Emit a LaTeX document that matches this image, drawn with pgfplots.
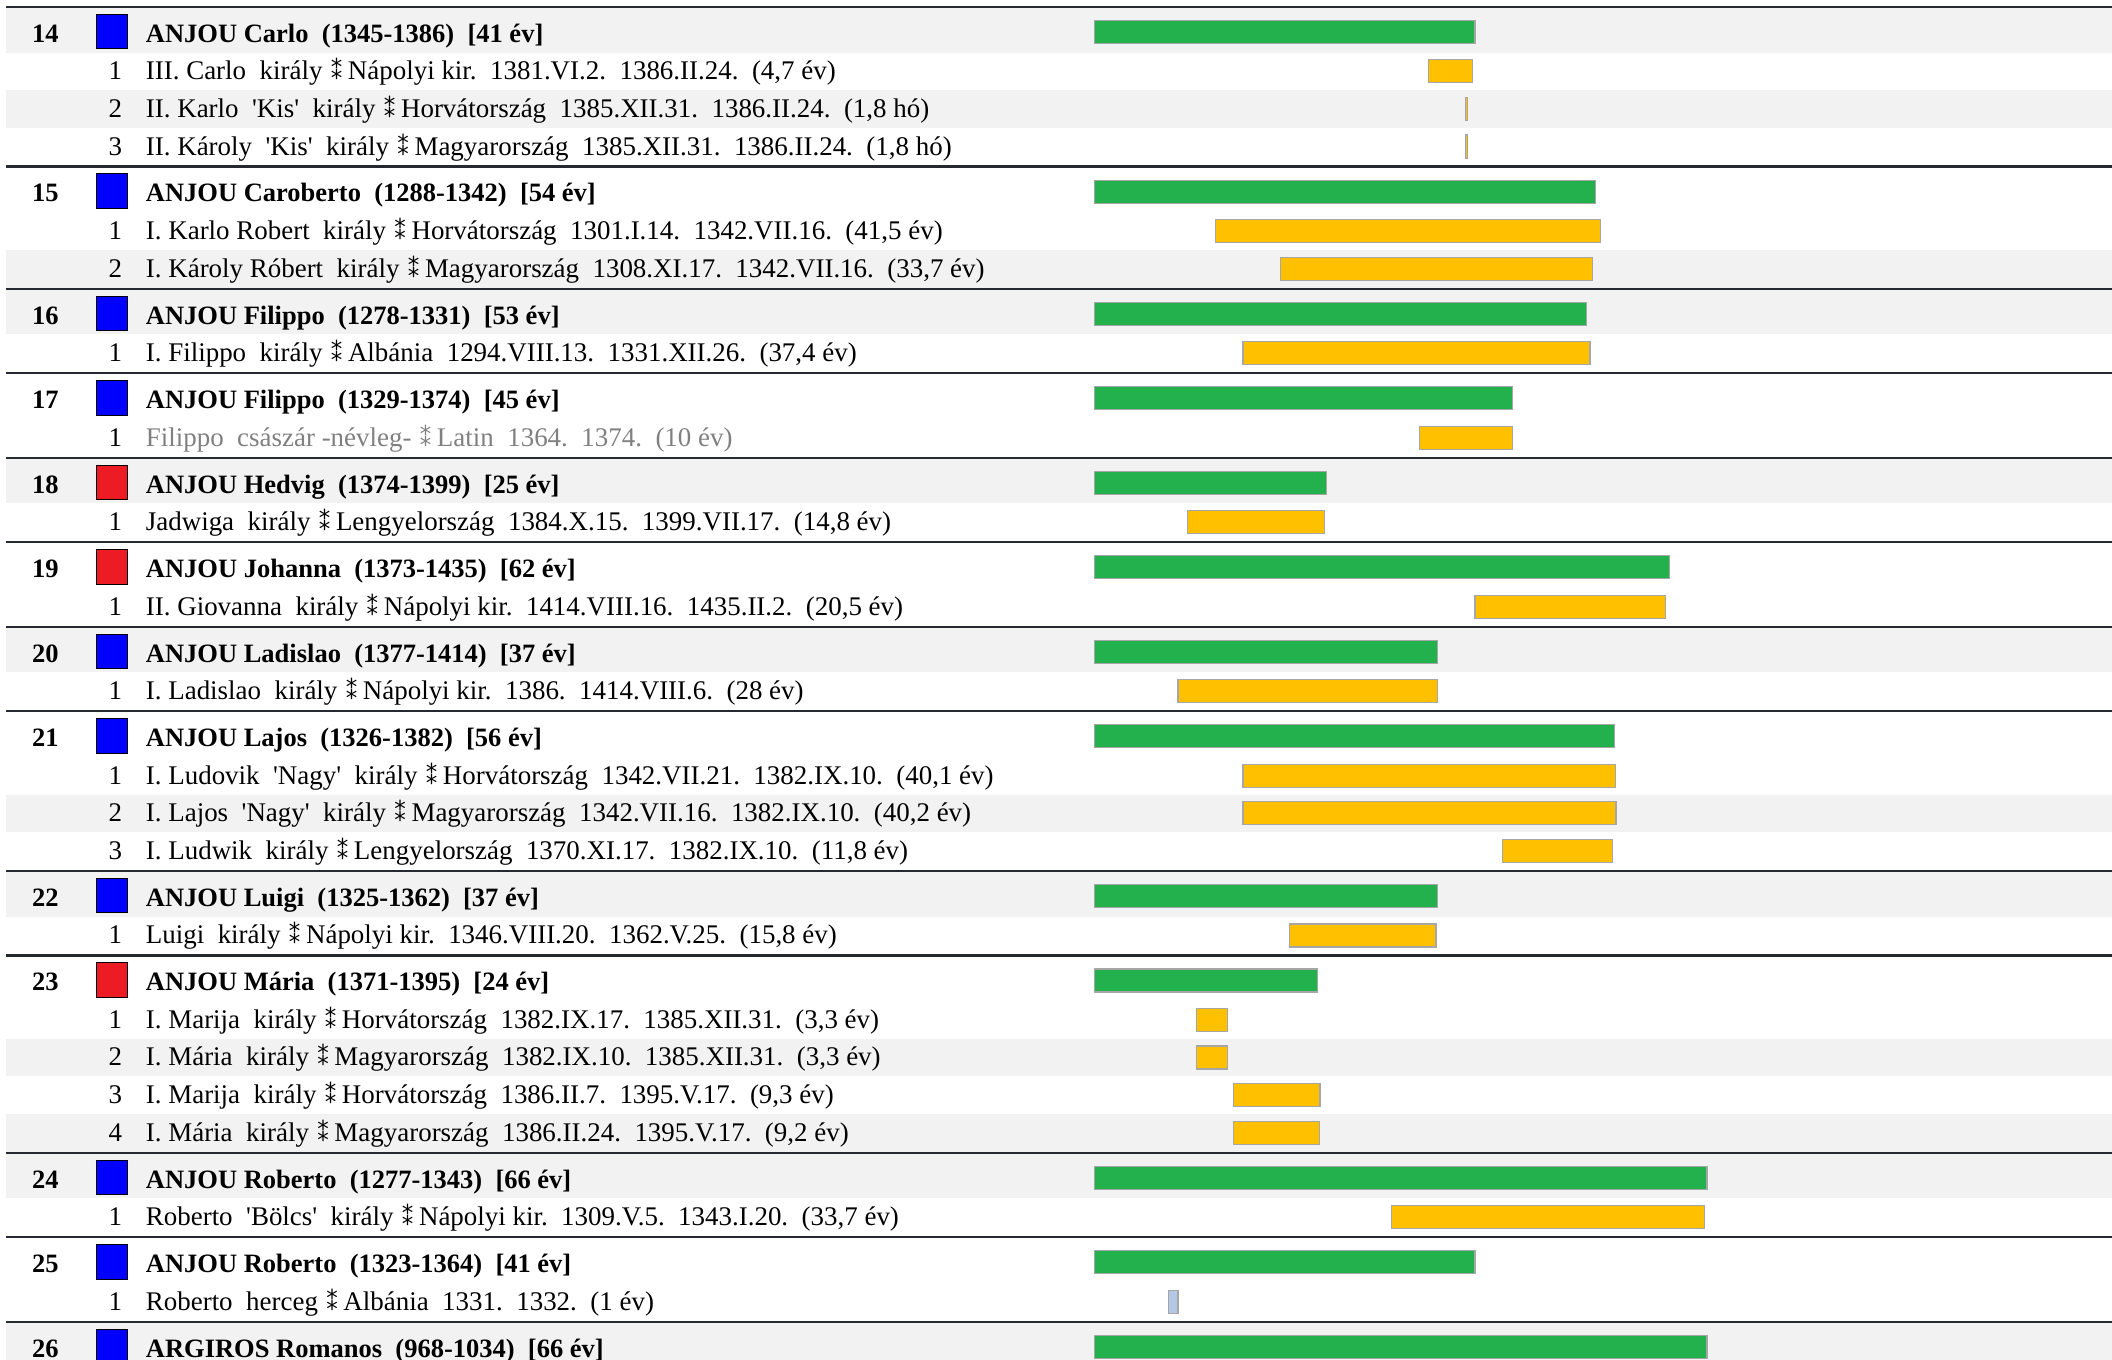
\documentclass[border=0pt]{standalone}
\usepackage{fontspec}
\setmainfont{Liberation Serif}[Ligatures=TeXOff]
\newfontfamily\djv{DejaVu Sans}
\usepackage{pgfplots}
\pgfplotsset{compat=1.18}
\definecolor{barGreen}{RGB}{35,177,77}
\definecolor{barYellow}{RGB}{255,192,0}
\definecolor{barBlue}{RGB}{180,199,231}
\definecolor{barEdge}{RGB}{166,166,166}
\definecolor{rowGray}{RGB}{242,242,242}
\definecolor{sepLine}{RGB}{38,41,48}
\definecolor{sqBlue}{RGB}{0,0,255}
\definecolor{sqRed}{RGB}{237,28,36}
\definecolor{txtGray}{RGB}{128,128,128}
\pgfplotsset{
  frame/.style={width=1056pt, height=679.5pt, scale only axis,
    xmin=-117.94, xmax=109.64, ymin=0, ymax=1359, y dir=reverse,
    axis lines=none, ticks=none, clip=true, at={(0,0)}, anchor=south west},
  barstyle/.style={draw=barEdge, line width=0.6pt},
}
\newcommand\fsz{\fontsize{13.25}{15}\selectfont}
\newcommand\fss{\fontsize{13.47}{15}\selectfont}
\newcommand\dast{\hspace{0.06em}{\djv\fontsize{11.5}{12}\selectfont ⁑}\hspace{-0.04em}}
\newcommand\grp[3]{%
  \node[anchor=base, inner sep=0pt, font=\fsz\bfseries] at (axis cs:-113.04,#1) {#2};
  \node[anchor=base west, inner sep=0pt, font=\fsz\bfseries] at (axis cs:-102.26,#1) {#3};}
\newcommand\sub[3]{%
  \node[anchor=base east, inner sep=0pt, font=\fss] at (axis cs:-104.74,#1) {#2};
  \node[anchor=base west, inner sep=0pt, font=\fss] at (axis cs:-102.26,#1) {#3};}
\newcommand\bg[2]{\fill[rowGray] (axis cs:-117.29,#1) rectangle (axis cs:109.64,#2);}
\newcommand\sep[1]{\draw[sepLine, line width=1.15pt] (axis cs:-117.29,#1) -- (axis cs:109.64,#1);}
\begin{document}
\begin{tikzpicture}
\useasboundingbox (0,0) rectangle (1056pt,679.5pt);
\begin{axis}[frame]
% alternating row backgrounds
\bg{8}{52.6}\bg{90.2}{127.8}\bg{249.9}{287.5}\bg{289.8}{334.4}
\bg{458.8}{503.4}\bg{627.8}{672.4}\bg{794.5}{832.1}\bg{872.0}{916.6}
\bg{1038.7}{1076.3}\bg{1113.9}{1151.5}\bg{1153.8}{1198.4}\bg{1322.8}{1367.4}
% separators
\sep{6.85}\sep{166.55}\sep{288.65}\sep{373.15}\sep{457.65}\sep{542.15}
\sep{626.65}\sep{711.15}\sep{870.85}\sep{955.35}\sep{1152.65}\sep{1237.15}\sep{1321.65}
% lifespan bars (years)
\addplot[xbar, bar shift=0pt, bar width=11.5pt, fill=barGreen, barstyle] coordinates {
 (41,32.0) (54,191.7) (53,313.8) (45,398.3) (25,482.8) (62,567.3) (37,651.8)
 (56,736.3) (37,896.0) (24,980.5) (66,1177.8) (41,1262.3) (66,1346.8)};
% gender squares
\addplot[only marks, mark=square*, mark size=7.65pt,
  mark options={yscale=1.134, fill=sqBlue, draw=none}] coordinates {
 (-105.87,31.5) (-105.87,191.2) (-105.87,313.3) (-105.87,397.8) (-105.87,651.3)
 (-105.87,735.8) (-105.87,895.5) (-105.87,1177.3) (-105.87,1261.8) (-105.87,1346.3)};
\addplot[only marks, mark=square*, mark size=7.65pt,
  mark options={yscale=1.134, fill=sqRed, draw=none}] coordinates {
 (-105.87,482.3) (-105.87,566.8) (-105.87,980.0)};
% texts
\grp{42.2}{14}{ANJOU Carlo~~(1345-1386)~~[41 év]}
\sub{79.8}{1}{III. Carlo~~király \dast{} Nápolyi kir.~~1381.VI.2.~~1386.II.24.~~(4,7 év)}
\sub{117.4}{2}{II. Karlo~~'Kis'~~király \dast{} Horvátország~~1385.XII.31.~~1386.II.24.~~(1,8 hó)}
\sub{155.0}{3}{II. Károly~~'Kis'~~király \dast{} Magyarország~~1385.XII.31.~~1386.II.24.~~(1,8 hó)}
\grp{201.9}{15}{ANJOU Caroberto~~(1288-1342)~~[54 év]}
\sub{239.5}{1}{I. Karlo Robert~~király \dast{} Horvátország~~1301.I.14.~~1342.VII.16.~~(41,5 év)}
\sub{277.1}{2}{I. Károly Róbert~~király \dast{} Magyarország~~1308.XI.17.~~1342.VII.16.~~(33,7 év)}
\grp{324.0}{16}{ANJOU Filippo~~(1278-1331)~~[53 év]}
\sub{361.6}{1}{I. Filippo~~király \dast{} Albánia~~1294.VIII.13.~~1331.XII.26.~~(37,4 év)}
\grp{408.5}{17}{ANJOU Filippo~~(1329-1374)~~[45 év]}
\sub{446.1}{1}{\color{txtGray}Filippo~~császár -névleg- \dast{} Latin~~1364.~~1374.~~(10 év)}
\grp{493.0}{18}{ANJOU Hedvig~~(1374-1399)~~[25 év]}
\sub{530.6}{1}{Jadwiga~~király \dast{} Lengyelország~~1384.X.15.~~1399.VII.17.~~(14,8 év)}
\grp{577.5}{19}{ANJOU Johanna~~(1373-1435)~~[62 év]}
\sub{615.1}{1}{II. Giovanna~~király \dast{} Nápolyi kir.~~1414.VIII.16.~~1435.II.2.~~(20,5 év)}
\grp{662.0}{20}{ANJOU Ladislao~~(1377-1414)~~[37 év]}
\sub{699.6}{1}{I. Ladislao~~király \dast{} Nápolyi kir.~~1386.~~1414.VIII.6.~~(28 év)}
\grp{746.5}{21}{ANJOU Lajos~~(1326-1382)~~[56 év]}
\sub{784.1}{1}{I. Ludovik~~'Nagy'~~király \dast{} Horvátország~~1342.VII.21.~~1382.IX.10.~~(40,1 év)}
\sub{821.7}{2}{I. Lajos~~'Nagy'~~király \dast{} Magyarország~~1342.VII.16.~~1382.IX.10.~~(40,2 év)}
\sub{859.3}{3}{I. Ludwik~~király \dast{} Lengyelország~~1370.XI.17.~~1382.IX.10.~~(11,8 év)}
\grp{906.2}{22}{ANJOU Luigi~~(1325-1362)~~[37 év]}
\sub{943.8}{1}{Luigi~~király \dast{} Nápolyi kir.~~1346.VIII.20.~~1362.V.25.~~(15,8 év)}
\grp{990.7}{23}{ANJOU Mária~~(1371-1395)~~[24 év]}
\sub{1028.3}{1}{I. Marija~~király \dast{} Horvátország~~1382.IX.17.~~1385.XII.31.~~(3,3 év)}
\sub{1065.9}{2}{I. Mária~~király \dast{} Magyarország~~1382.IX.10.~~1385.XII.31.~~(3,3 év)}
\sub{1103.5}{3}{I. Marija~~király \dast{} Horvátország~~1386.II.7.~~1395.V.17.~~(9,3 év)}
\sub{1141.1}{4}{I. Mária~~király \dast{} Magyarország~~1386.II.24.~~1395.V.17.~~(9,2 év)}
\grp{1188.0}{24}{ANJOU Roberto~~(1277-1343)~~[66 év]}
\sub{1225.6}{1}{Roberto~~'Bölcs'~~király \dast{} Nápolyi kir.~~1309.V.5.~~1343.I.20.~~(33,7 év)}
\grp{1272.5}{25}{ANJOU Roberto~~(1323-1364)~~[41 év]}
\sub{1310.1}{1}{Roberto~~herceg \dast{} Albánia~~1331.~~1332.~~(1 év)}
\grp{1357.0}{26}{ARGIROS Romanos~~(968-1034)~~[66 év]}
\end{axis}
% reign bars: offset (years after birth year) + duration
\begin{axis}[frame, xbar stacked, bar width=11.5pt]
\addplot[draw=none, fill=none] coordinates {
 (36,71.4) (40,109.0) (40,146.6) (13,231.1) (20,268.7) (16,353.2) (35,437.7)
 (10,522.2) (41,606.7) (9,691.2) (16,775.7) (16,813.3) (44,850.9) (21,935.4)
 (11,1019.9) (11,1057.5) (15,1095.1) (15,1132.7) (32,1217.2)};
\addplot[fill=barYellow, barstyle] coordinates {
 (4.7,71.4) (0.15,109.0) (0.15,146.6) (41.5,231.1) (33.7,268.7) (37.4,353.2) (10,437.7)
 (14.8,522.2) (20.5,606.7) (28,691.2) (40.1,775.7) (40.2,813.3) (11.8,850.9) (15.8,935.4)
 (3.3,1019.9) (3.3,1057.5) (9.3,1095.1) (9.2,1132.7) (33.7,1217.2)};
\end{axis}
\begin{axis}[frame, xbar stacked, bar width=11.5pt]
\addplot[draw=none, fill=none] coordinates {(8,1301.7)};
\addplot[fill=barBlue, barstyle] coordinates {(1,1301.7)};
\end{axis}
\end{tikzpicture}
\end{document}
